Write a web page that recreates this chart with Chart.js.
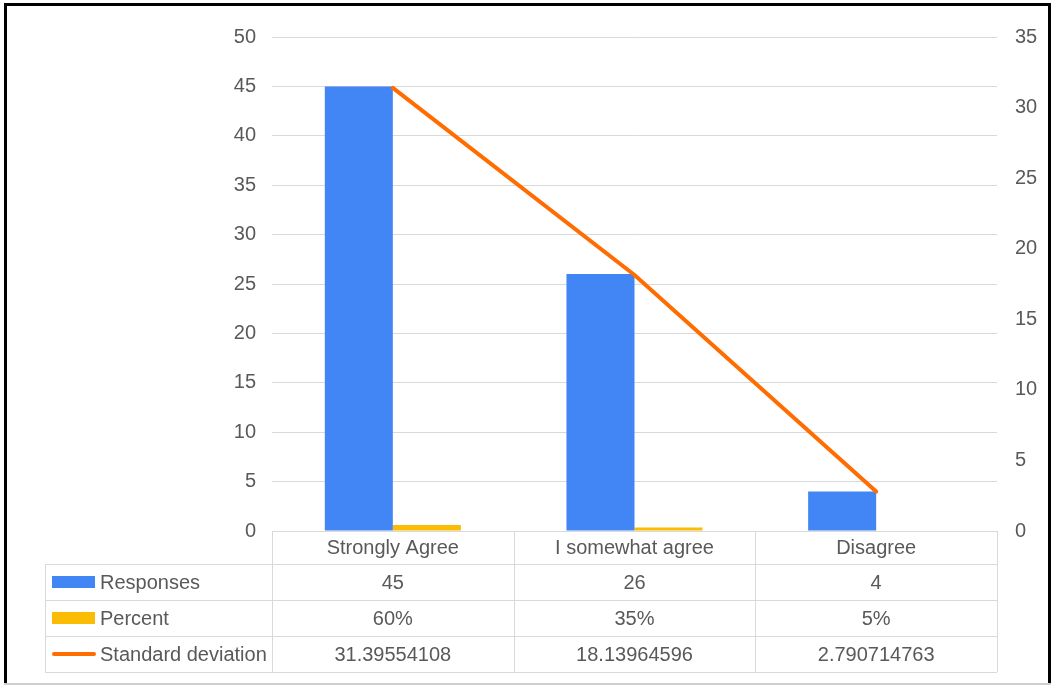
<!DOCTYPE html>
<html>
<head>
<meta charset="utf-8">
<title>Responses, percent and standard deviation</title>
<script src="https://cdn.jsdelivr.net/npm/chart.js@4.4.1/dist/chart.umd.min.js"></script>
<style>
  html, body { margin: 0; padding: 0; background: #ffffff; overflow: hidden; }
  #wrap { position: relative; width: 1052px; height: 686px; }
</style>
</head>
<body>
<div id="wrap"><canvas id="chart"></canvas></div>
<script>
// Survey answers and their summary figures
const categories = ['Strongly Agree', 'I somewhat agree', 'Disagree'];
const responses = [45, 26, 4];
const percentShare = [0.60, 0.35, 0.05];
const standardDeviation = [31.39554108, 18.13964596, 2.790714763];
const leftTicks = [0, 5, 10, 15, 20, 25, 30, 35, 40, 45, 50];
const rightTicks = [0, 5, 10, 15, 20, 25, 30, 35];

const BLUE = '#4285F4';
const YELLOW = '#FBBC04';
const ORANGE = '#FF6D01';
const GRID = '#d9d9d9';
const TEXT = '#595959';
const FONT_FAMILY = '"Liberation Sans", Arial, sans-serif';

// Rows of the data table under the plot
const tableRows = [
  { name: 'Responses', kind: 'bar', color: BLUE, cells: responses.map(v => String(v)) },
  { name: 'Percent', kind: 'bar', color: YELLOW, cells: percentShare.map(v => Math.round(v * 100) + '%') },
  { name: 'Standard deviation', kind: 'line', color: ORANGE, cells: standardDeviation.map(v => String(v)) }
];

const dataTablePlugin = {
  id: 'dataTable',
  afterDraw(chart) {
    const { ctx, chartArea: a, scales: { x } } = chart;
    const n = categories.length;
    const colW = (a.right - a.left) / n;
    const headTop = Math.round(a.bottom);
    const headH = 33;
    const rowH = 36;
    const tableLeft = 45;
    const tableBottom = headTop + headH + rowH * tableRows.length;
    const px = v => Math.round(v) + 0.5;

    ctx.save();
    ctx.strokeStyle = GRID;
    ctx.lineWidth = 1;
    ctx.beginPath();
    // horizontal rules
    ctx.moveTo(a.left, px(headTop)); ctx.lineTo(a.right, px(headTop));
    for (let r = 0; r <= tableRows.length; r++) {
      const y = px(headTop + headH + r * rowH);
      ctx.moveTo(tableLeft, y); ctx.lineTo(a.right, y);
    }
    // vertical rules
    ctx.moveTo(px(tableLeft), headTop + headH); ctx.lineTo(px(tableLeft), tableBottom);
    for (let c = 0; c <= n; c++) {
      const xx = px(a.left + c * colW);
      ctx.moveTo(xx, headTop); ctx.lineTo(xx, tableBottom);
    }
    ctx.stroke();

    ctx.font = '20px ' + FONT_FAMILY;
    ctx.fillStyle = TEXT;
    ctx.textBaseline = 'middle';
    ctx.textAlign = 'center';
    categories.forEach((c, i) => {
      ctx.fillText(c, x.getPixelForValue(i), headTop + headH / 2 + 1);
    });

    tableRows.forEach((row, r) => {
      const cy = headTop + headH + r * rowH + rowH / 2;
      // legend key
      if (row.kind === 'bar') {
        ctx.fillStyle = row.color;
        ctx.fillRect(52, Math.round(cy) - 6, 43, 12);
      } else {
        ctx.strokeStyle = row.color;
        ctx.lineWidth = 4;
        ctx.lineCap = 'round';
        ctx.beginPath();
        ctx.moveTo(54, cy); ctx.lineTo(94, cy);
        ctx.stroke();
      }
      ctx.fillStyle = TEXT;
      ctx.textAlign = 'left';
      ctx.fillText(row.name, 100, cy + 1);
      ctx.textAlign = 'center';
      row.cells.forEach((t, i) => {
        ctx.fillText(t, x.getPixelForValue(i), cy + 1);
      });
    });
    ctx.restore();
  }
};

const framePlugin = {
  id: 'frame',
  beforeDraw(chart) {
    const ctx = chart.ctx;
    ctx.save();
    ctx.fillStyle = '#ffffff';
    ctx.fillRect(0, 0, chart.width, chart.height);
    ctx.restore();
  },
  afterDraw(chart) {
    const ctx = chart.ctx;
    ctx.save();
    ctx.fillStyle = '#000000';
    ctx.fillRect(4, 3, 3, 681);
    ctx.fillRect(4, 3, 1047, 3);
    ctx.fillRect(1048, 3, 3, 681);
    ctx.fillStyle = '#cfcfcf';
    ctx.fillRect(4, 683, 1047, 2);
    ctx.restore();
  }
};

new Chart(document.getElementById('chart'), {
  data: {
    labels: categories,
    datasets: [
      {
        type: 'line',
        label: 'Standard deviation',
        data: standardDeviation,
        yAxisID: 'y1',
        borderColor: ORANGE,
        borderWidth: 4,
        borderCapStyle: 'round',
        pointRadius: 0,
        tension: 0,
        order: 0
      },
      {
        type: 'bar',
        label: 'Responses',
        data: responses,
        yAxisID: 'y',
        backgroundColor: BLUE,
        categoryPercentage: 0.563,
        barPercentage: 1.0,
        order: 1
      },
      {
        type: 'bar',
        label: 'Percent',
        data: percentShare,
        yAxisID: 'y',
        backgroundColor: YELLOW,
        categoryPercentage: 0.563,
        barPercentage: 1.0,
        order: 1
      }
    ]
  },
  options: {
    responsive: true,
    maintainAspectRatio: false,
    animation: false,
    layout: { padding: { top: 37, bottom: 155, left: 0, right: 0 } },
    plugins: { legend: { display: false }, tooltip: { enabled: false } },
    scales: {
      x: { display: false },
      y: {
        position: 'left',
        min: 0,
        max: 50,
        afterBuildTicks: s => { s.ticks = leftTicks.map(v => ({ value: v })); },
        afterFit: s => { s.width = 272; },
        grid: { color: GRID, lineWidth: 1, drawTicks: false },
        border: { display: false },
        ticks: { padding: 16, color: TEXT, font: { family: FONT_FAMILY, size: 20 } }
      },
      y1: {
        position: 'right',
        min: 0,
        max: 35,
        afterBuildTicks: s => { s.ticks = rightTicks.map(v => ({ value: v })); },
        afterFit: s => { s.width = 55; },
        grid: { display: false, drawTicks: false },
        border: { display: false },
        ticks: { padding: 18, color: TEXT, font: { family: FONT_FAMILY, size: 20 } }
      }
    }
  },
  plugins: [framePlugin, dataTablePlugin]
});
</script>
</body>
</html>
